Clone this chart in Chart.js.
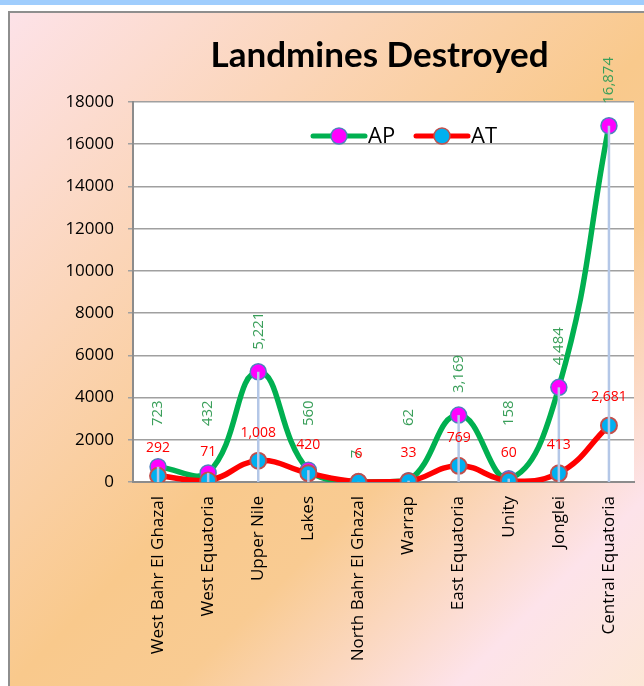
<!DOCTYPE html>
<html lang="en">
<head>
    <meta charset="UTF-8">
    <title>Landmines Destroyed</title>
    <script src="https://cdn.jsdelivr.net/npm/chart.js"></script>
    <style>
        body {
            margin: 0;
            width: 644px;
            height: 686px;
            overflow: hidden;
            background-color: #ffffff;
            font-family: "Open Sans", sans-serif;
        }
        .band {
            position: absolute;
            left: 0;
            top: 0;
            width: 644px;
            height: 5px;
            background-color: #9fcdfd;
        }
        .frame {
            position: absolute;
            left: 8px;
            top: 11px;
            width: 700px;
            height: 700px;
            border-left: 2px solid #8e8e8e;
            border-top: 2px solid #8e8e8e;
            background: linear-gradient(135deg, #fde2e8 0%, #fbd5b8 25%, #f9c98c 48%, #f9cb92 60%, #fde3ea 80%, #fce9cc 100%);
        }
        #chart {
            position: absolute;
            left: 0;
            top: 0;
        }
    </style>
</head>
<body>
    <div class="band"></div>
    <div class="frame"></div>
    <canvas id="chart" width="644" height="686"></canvas>

    <script>
        // chart data
        const regions = ['West Bahr El Ghazal', 'West Equatoria', 'Upper Nile', 'Lakes', 'North Bahr El Ghazal',
                         'Warrap', 'East Equatoria', 'Unity', 'Jonglei', 'Central Equatoria'];
        const apValues = [723, 432, 5221, 560, 7, 62, 3169, 158, 4484, 16874];
        const atValues = [292, 71, 1008, 420, 6, 33, 769, 60, 413, 2681];
        const yTicks = [0, 2000, 4000, 6000, 8000, 10000, 12000, 14000, 16000, 18000];

        const fmt = v => v.toLocaleString('en-US');

        // white plot area
        const plotBg = {
            id: 'plotBg',
            beforeDraw(chart) {
                const { ctx, chartArea: a } = chart;
                ctx.save();
                ctx.fillStyle = '#ffffff';
                ctx.fillRect(a.left, a.top, a.right - a.left, a.bottom - a.top);
                ctx.restore();
            }
        };

        // title centred over the plot area
        const titlePlugin = {
            id: 'titlePlugin',
            afterDraw(chart) {
                const { ctx, chartArea: a } = chart;
                ctx.save();
                ctx.font = 'bold 35px Lato';
                ctx.fillStyle = '#000000';
                ctx.textAlign = 'center';
                ctx.textBaseline = 'alphabetic';
                ctx.fillText('Landmines Destroyed', (a.left + a.right) / 2 - 4, 67);
                ctx.restore();
            }
        };

        // drop lines and value labels
        const labelsPlugin = {
            id: 'labelsPlugin',
            afterDatasetsDraw(chart) {
                const { ctx, chartArea: a } = chart;
                const y = chart.scales.y;
                const ap = chart.getDatasetMeta(0).data;
                const at = chart.getDatasetMeta(1).data;
                ctx.save();

                // drop lines
                ctx.strokeStyle = '#b4c7e7';
                ctx.lineWidth = 2.5;
                ap.forEach((p, i) => {
                    const top = Math.min(p.y, at[i].y);
                    ctx.beginPath();
                    ctx.moveTo(p.x, top);
                    ctx.lineTo(p.x, a.bottom);
                    ctx.stroke();
                });

                // AP labels, rotated
                ctx.font = '15px "Open Sans"';
                ctx.fillStyle = '#3a9f5a';
                ctx.textBaseline = 'middle';
                const floor = y.getPixelForValue(2650);
                ap.forEach((p, i) => {
                    ctx.save();
                    if (apValues[i] < 20) {
                        // hidden behind the AT label
                        ctx.translate(p.x - 2, at[i].y - 28);
                        ctx.rotate(-Math.PI / 2);
                        ctx.textAlign = 'center';
                    } else {
                        ctx.translate(p.x, Math.min(p.y - 22, floor));
                        ctx.rotate(-Math.PI / 2);
                        ctx.textAlign = 'left';
                    }
                    ctx.fillText(fmt(apValues[i]), 0, 0);
                    ctx.restore();
                });

                // AT labels
                ctx.font = '14px "Open Sans"';
                ctx.fillStyle = '#ff0000';
                ctx.textAlign = 'center';
                at.forEach((p, i) => {
                    ctx.fillText(fmt(atValues[i]), p.x, p.y - 28);
                });
                ctx.restore();
            }
        };

        // legend inside the plot
        const legendPlugin = {
            id: 'legendPlugin',
            afterDraw(chart) {
                const { ctx, chartArea: a } = chart;
                const cy = a.top + 34;
                ctx.save();
                chart.data.datasets.forEach((ds, i) => {
                    const x0 = a.left + 180 + i * 103;
                    ctx.strokeStyle = ds.borderColor;
                    ctx.lineWidth = 5;
                    ctx.lineCap = 'round';
                    ctx.beginPath();
                    ctx.moveTo(x0, cy);
                    ctx.lineTo(x0 + 52, cy);
                    ctx.stroke();
                    ctx.beginPath();
                    ctx.arc(x0 + 26, cy, 8, 0, Math.PI * 2);
                    ctx.fillStyle = ds.pointBackgroundColor;
                    ctx.fill();
                    ctx.lineWidth = 1.5;
                    ctx.strokeStyle = ds.pointBorderColor;
                    ctx.stroke();
                    ctx.fillStyle = '#000000';
                    ctx.font = '22px "Open Sans"';
                    ctx.textAlign = 'left';
                    ctx.textBaseline = 'middle';
                    ctx.fillText(ds.label, x0 + 55, cy + 1);
                });
                ctx.restore();
            }
        };

        const ctx = document.getElementById('chart').getContext('2d');
        new Chart(ctx, {
            type: 'line',
            data: {
                labels: regions,
                datasets: [
                    {
                        label: 'AP',
                        data: apValues,
                        borderColor: '#00b050',
                        borderWidth: 5.5,
                        pointBackgroundColor: '#ff00ff',
                        pointBorderColor: '#4f81bd',
                        pointBorderWidth: 1.5,
                        pointRadius: 8,
                        tension: 0.45,
                        order: 2
                    },
                    {
                        label: 'AT',
                        data: atValues,
                        borderColor: '#ff0000',
                        borderWidth: 5.5,
                        pointBackgroundColor: '#00b0f0',
                        pointBorderColor: '#c0504d',
                        pointBorderWidth: 2,
                        pointRadius: 8,
                        tension: 0.45,
                        order: 1
                    }
                ]
            },
            options: {
                responsive: false,
                animation: false,
                layout: { padding: { top: 102, right: 8, left: 0, bottom: 0 } },
                plugins: {
                    legend: { display: false },
                    tooltip: { enabled: false }
                },
                scales: {
                    x: {
                        offset: true,
                        grid: { display: false, drawTicks: false },
                        border: { color: '#8c8c8c', width: 2 },
                        ticks: {
                            color: '#000000',
                            font: { family: 'Open Sans', size: 17 },
                            minRotation: 90,
                            maxRotation: 90,
                            padding: 14,
                            autoSkip: false
                        },
                        afterFit(scale) { scale.height = 204; }
                    },
                    y: {
                        min: 0,
                        max: 18000,
                        afterBuildTicks(scale) { scale.ticks = yTicks.map(v => ({ value: v })); },
                        grid: { color: '#a0a0a0', lineWidth: 1.5, tickLength: 5 },
                        border: { color: '#8c8c8c', width: 2 },
                        ticks: {
                            color: '#000000',
                            font: { family: 'Open Sans', size: 17 },
                            padding: 14,
                            callback: v => String(v)
                        },
                        afterFit(scale) { scale.width = 133; }
                    }
                }
            },
            plugins: [plotBg, labelsPlugin, legendPlugin, titlePlugin]
        });
    </script>
</body>
</html>
